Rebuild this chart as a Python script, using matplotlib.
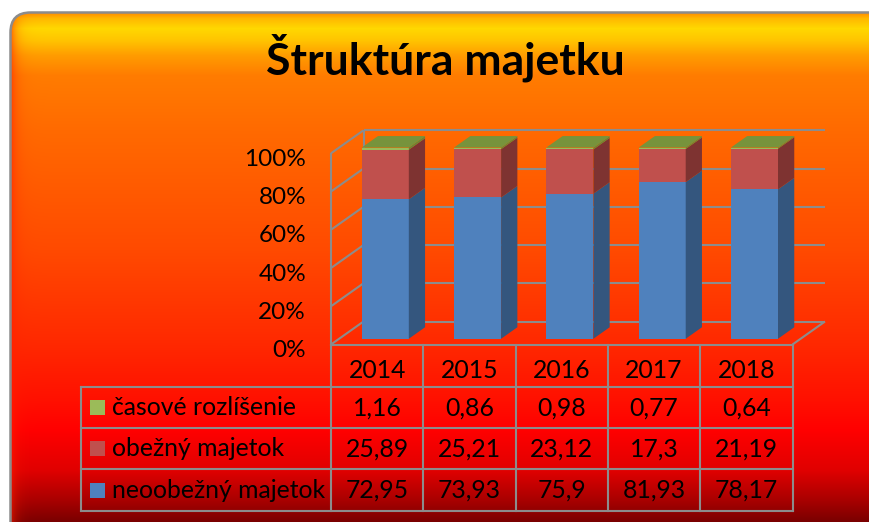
import numpy as np
import matplotlib
matplotlib.use('Agg')
import matplotlib.pyplot as plt
from matplotlib.patches import Polygon, FancyBboxPatch, Rectangle
from matplotlib.transforms import ScaledTranslation
from matplotlib.colors import to_rgb

# ---------------- data ----------------
years = ['2014', '2015', '2016', '2017', '2018']
series_names = ['časové rozlíšenie', 'obežný majetok', 'neoobežný majetok']
casove_rozlisenie = [1.16, 0.86, 0.98, 0.77, 0.64]
obezny_majetok = [25.89, 25.21, 23.12, 17.3, 21.19]
neoobezny_majetok = [72.95, 73.93, 75.9, 81.93, 78.17]
y_ticks = [0, 20, 40, 60, 80, 100]
y_tick_labels = ['0%', '20%', '40%', '60%', '80%', '100%']
title = 'Štruktúra majetku'

FONT = ['Lato', 'DejaVu Sans']
plt.rcParams['font.family'] = FONT

W, H = 869, 522
fig = plt.figure(figsize=(W / 100, H / 100), dpi=100)
fig.patch.set_facecolor('white')

# ---------------- background axes (pixel coords) ----------------
bg = fig.add_axes([0, 0, 1, 1])
bg.set_xlim(0, W)
bg.set_ylim(H, 0)
bg.axis('off')

stops = [(12, '#FF8A00'), (18, '#FFB800'), (28, '#FFD800'), (40, '#FFC400'),
         (55, '#FF9C00'), (75, '#FF7C00'), (130, '#FF6A00'), (250, '#FF4A00'),
         (345, '#FF2800'), (400, '#FF1000'), (430, '#FF0000'), (470, '#E00000'),
         (500, '#A80000'), (522, '#780000')]
ys = np.arange(0, H + 1)
sy = [s[0] for s in stops]
cols = np.array([to_rgb(s[1]) for s in stops])
base = np.stack([np.interp(ys, sy, cols[:, k]) for k in range(3)], axis=1)
xs = np.arange(0, W + 1)
wgt = 0.55 * np.exp(-np.clip(xs - 11, 0, None) / 6.0)
edge = np.array(to_rgb('#FF2000'))
img = base[:, None, :] * (1 - wgt[None, :, None]) + edge[None, None, :] * wgt[None, :, None]

box = FancyBboxPatch((10.5, 12.5), 900, 560,
                     boxstyle='round,pad=0,rounding_size=20',
                     facecolor='none', edgecolor='#8C8C8C', lw=1.8, zorder=2)
im = bg.imshow(img, extent=(0, W + 1, H + 1, 0), aspect='auto', zorder=0,
               interpolation='bilinear')
bg.add_patch(box)
im.set_clip_path(box)

bg.text(445, 75, title, ha='center', va='baseline', fontsize=32,
        fontweight='bold', color='black', zorder=3)

# ---------------- plot axes ----------------
FX0, FX1 = 331.0, 792.5
FY0, FY100 = 344.5, 153.3
ax = fig.add_axes([FX0 / W, 1 - FY0 / H, (FX1 - FX0) / W, (FY0 - FY100) / H])
ax.set_xlim(0, len(years))
ax.set_ylim(0, 100)
ax.patch.set_alpha(0)
for s in ax.spines.values():
    s.set_visible(False)
ax.set_xticks([])
ax.set_yticks(y_ticks)
ax.set_yticklabels(y_tick_labels, fontsize=17.5)
ax.tick_params(axis='y', length=0, pad=18)
for lab in ax.get_yticklabels():
    lab.set_transform(lab.get_transform() + ScaledTranslation(0, -4 / 100, fig.dpi_scale_trans))

n = len(years)
DX = 32.5 / ((FX1 - FX0) / n)
DY = 23.0 / ((FY0 - FY100) / 100)
GRID = '#8C8C8C'
LW = 1.5
kw = dict(color=GRID, lw=LW, zorder=1, clip_on=False, solid_capstyle='butt')
for v in y_ticks:
    ax.plot([DX, n + DX], [v + DY, v + DY], **kw)
    ax.plot([0, DX], [v, v + DY], **kw)
ax.plot([0, 0], [0, 100], **kw)
ax.plot([DX, DX], [DY, 100 + DY], **kw)
ax.plot([n, n + DX], [0, DY], **kw)

front_cols = ['#4F81BD', '#C0504D', '#9BBB59']
side_cols = ['#34567E', '#7E3331', '#6A8437']
top_col = '#77933C'
stack = [neoobezny_majetok, obezny_majetok, casove_rozlisenie]
bw = 0.51
d0, d1 = 0.25, 0.75
for i in range(n):
    total = sum(s[i] for s in stack)
    xl = i + 0.5 - bw / 2
    xr = i + 0.5 + bw / 2
    y0 = 0.0
    for k, s in enumerate(stack):
        h = s[i] / total * 100
        y1 = y0 + h
        ax.add_patch(Rectangle((xl + d0 * DX, y0 + d0 * DY), bw, h,
                               facecolor=front_cols[k], edgecolor='none',
                               zorder=3, clip_on=False))
        ax.add_patch(Polygon([(xr + d0 * DX, y0 + d0 * DY), (xr + d1 * DX, y0 + d1 * DY),
                              (xr + d1 * DX, y1 + d1 * DY), (xr + d0 * DX, y1 + d0 * DY)],
                             closed=True, facecolor=side_cols[k], edgecolor='none',
                             zorder=3, clip_on=False))
        y0 = y1
    ax.add_patch(Polygon([(xl + d0 * DX, y0 + d0 * DY), (xr + d0 * DX, y0 + d0 * DY),
                          (xr + d1 * DX, y0 + d1 * DY), (xl + d1 * DX, y0 + d1 * DY)],
                         closed=True, facecolor=top_col, edgecolor='none',
                         zorder=3, clip_on=False))

# ---------------- data table (pixel coords) ----------------
col_x = [FX0 + k * (FX1 - FX0) / n for k in range(n + 1)]
row_y = [FY0, 387.0, 428.2, 469.4, 510.7]
LEG_X = 81.0
tkw = dict(color=GRID, lw=LW, zorder=4, solid_capstyle='projecting')
bg.plot([FX0, FX1], [row_y[0], row_y[0]], **tkw)
for yv in row_y[1:]:
    bg.plot([LEG_X, FX1], [yv, yv], **tkw)
for xv in col_x:
    bg.plot([xv, xv], [row_y[0], row_y[-1]], **tkw)
bg.plot([LEG_X, LEG_X], [row_y[1], row_y[-1]], **tkw)

FS = 17.8
for j, yr in enumerate(years):
    cx = (col_x[j] + col_x[j + 1]) / 2
    bg.text(cx, (row_y[0] + row_y[1]) / 2 + 5, yr, ha='center', va='center',
            fontsize=FS, zorder=5)

table_rows = [casove_rozlisenie, obezny_majetok, neoobezny_majetok]
leg_cols = ['#9BBB59', '#C0504D', '#4F81BD']
for r, (name, vals) in enumerate(zip(series_names, table_rows)):
    cy = (row_y[r + 1] + row_y[r + 2]) / 2
    bg.add_patch(Rectangle((90, cy - 7.5), 15, 15, facecolor=leg_cols[r],
                           edgecolor='none', zorder=5))
    bg.text(112, cy, name, ha='left', va='center', fontsize=FS, zorder=5)
    for j, v in enumerate(vals):
        cx = (col_x[j] + col_x[j + 1]) / 2
        bg.text(cx, cy, str(v).replace('.', ','), ha='center', va='center',
                fontsize=FS, zorder=5)

fig.savefig('out.png', dpi=100, facecolor='white')
